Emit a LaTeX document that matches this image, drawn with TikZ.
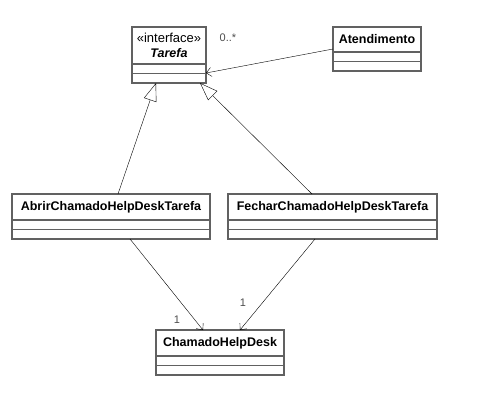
\documentclass[tikz,border=0pt]{standalone}
\usepackage{fontspec}
\setmainfont{Liberation Sans}
\usetikzlibrary{arrows.meta}

\newcommand{\umlclass}[6]{%
	\node[hdr, minimum width=#4, minimum height=#5, anchor=north] (#1) at (#2,#3) {#6};
	\node[comp, minimum width=#4, anchor=north] (#1a) at (#1.south) {};
	\node[comp, minimum width=#4, anchor=north] (#1b) at (#1a.south) {};
}

\begin{document}
\begin{tikzpicture}[x=1pt,y=-1pt,
	hdr/.style={draw=black!62,line width=1.2pt,fill=white,inner sep=0pt,outer sep=0pt,align=center,font=\fontsize{12.5}{14.5}\selectfont\bfseries},
	comp/.style={draw=black!62,line width=1.2pt,fill=white,inner sep=0pt,outer sep=0pt,minimum height=9.5},
	mult/.style={text=black!70,inner sep=0pt,font=\fontsize{11}{12}\selectfont},
	assoc/.style={black,thin,-{Straight Barb[length=5pt,width=9pt]}},
	gen/.style={black,thin,-{Triangle[open,length=18pt,width=13pt,fill=white]}}]
	\useasboundingbox (0,0) rectangle (485,407);
	% classes
	\umlclass{tarefa}{169}{27}{74}{37}{{\mdseries\fontsize{13}{14.5}\selectfont «interface»}\\\itshape Tarefa}
	\umlclass{atend}{377}{27}{88}{25}{Atendimento}
	\umlclass{abrir}{111}{194}{198}{26}{AbrirChamadoHelpDeskTarefa}
	\umlclass{fechar}{332.5}{194}{209}{26}{FecharChamadoHelpDeskTarefa}
	\umlclass{chamado}{220}{330}{128}{26}{ChamadoHelpDesk}
	% generalizations
	\draw[gen] ([xshift=7pt]abrir.north) -- ([xshift=-13pt]tarefab.south);
	\draw[gen] ([xshift=-20.5pt]fechar.north) -- ([xshift=31pt]tarefab.south);
	% associations
	\draw[assoc] ([yshift=3pt]atend.south west) -- ([yshift=-9pt]tarefa.south east);
	\draw[assoc] ([xshift=19pt]abrirb.south) -- ([xshift=-17pt]chamado.north);
	\draw[assoc] ([xshift=-17.5pt]fecharb.south) -- ([xshift=20pt]chamado.north);
	% multiplicities
	\node[mult] (m0) at (228,38) {0..*};
	\node[mult] (m1) at (177,320) {1};
	\node[mult] (m2) at (243,303) {1};
\end{tikzpicture}
\end{document}
